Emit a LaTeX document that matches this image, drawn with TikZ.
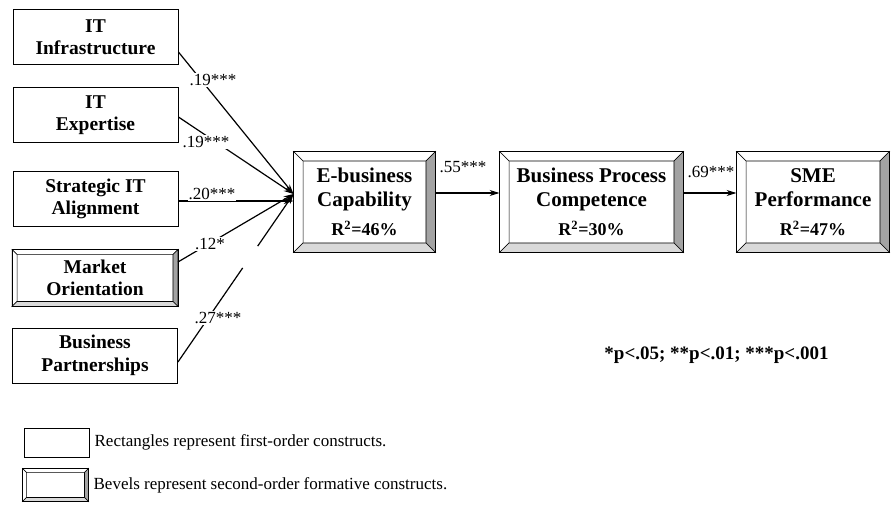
\documentclass[tikz,border=0pt]{standalone}
\usepackage{fontspec}
\setmainfont{Liberation Serif}
\usetikzlibrary{arrows.meta,calc}

\definecolor{facetdark}{gray}{0.64}
\definecolor{facetlight}{gray}{0.85}

\tikzset{
  box/.style={draw, line width=0.9pt, fill=white, align=center, inner sep=0pt},
  leftbox/.style={box, minimum width=165pt, minimum height=55pt,
                  font=\fontsize{19.5}{22.5}\selectfont\bfseries},
  midbox/.style={box, minimum height=100pt,
                 font=\fontsize{21}{24}\selectfont\bfseries},
  coef/.style={fill=white, inner sep=1pt, font=\fontsize{17}{20}\selectfont},
  link/.style={line width=1.2pt},
  conn/.style={link, -{Stealth[length=10pt,width=6pt]}},
  note/.style={anchor=west, inner sep=0pt, font=\fontsize{17}{20}\selectfont},
  facet/.style={draw, line width=0.6pt},
}

% bevelled frame drawn over an existing node: #1 node name, #2 facet width in pt
\newcommand{\bevelframe}[2]{%
  \coordinate (#1-oa) at (#1.north west);
  \coordinate (#1-ob) at (#1.north east);
  \coordinate (#1-oc) at (#1.south east);
  \coordinate (#1-od) at (#1.south west);
  \coordinate (#1-ia) at ($(#1.north west)+(#2pt,-#2pt)$);
  \coordinate (#1-ib) at ($(#1.north east)+(-#2pt,-#2pt)$);
  \coordinate (#1-ic) at ($(#1.south east)+(-#2pt,#2pt)$);
  \coordinate (#1-id) at ($(#1.south west)+(#2pt,#2pt)$);
  \path[facet, fill=white] (#1-oa) -- (#1-ob) -- (#1-ib) -- (#1-ia) -- cycle;
  \path[facet, fill=white] (#1-oa) -- (#1-ia) -- (#1-id) -- (#1-od) -- cycle;
  \path[facet, fill=facetdark] (#1-ob) -- (#1-oc) -- (#1-ic) -- (#1-ib) -- cycle;
  \path[facet, fill=facetlight] (#1-od) -- (#1-id) -- (#1-ic) -- (#1-oc) -- cycle;
  \draw[line width=0.9pt] (#1-oa) rectangle (#1-oc);
}

\begin{document}
\begin{tikzpicture}[x=1pt, y=-1pt]
\useasboundingbox (0,0) rectangle (891,505);

% antecedent constructs
\node[leftbox] (itinf) at (95.5,37) {IT\\Infrastructure};
\node[leftbox] (itexp) at (95.5,115) {IT\\Expertise};
\node[leftbox] (strat) at (95.5,199) {Strategic IT\\Alignment};
\node[leftbox, minimum height=56pt] (mkt) at (95,278) {Market\\Orientation};
\bevelframe{mkt}{5}
\node[leftbox] (bp) at (95,355.5) {Business\\Partnerships};

% second-order constructs
\node[midbox, minimum width=141pt] (eb) at (364.5,202)
  {E-business\\Capability\\[5pt]{\fontsize{18}{20}\selectfont R\textsuperscript{2}=46\%}};
\bevelframe{eb}{9.5}
\node[midbox, minimum width=183pt] (bpc) at (591.5,202)
  {Business Process\\Competence\\[5pt]{\fontsize{18}{20}\selectfont R\textsuperscript{2}=30\%}};
\bevelframe{bpc}{9.5}
\node[midbox, minimum width=152pt] (sme) at (813,202)
  {SME\\Performance\\[5pt]{\fontsize{18}{20}\selectfont R\textsuperscript{2}=47\%}};
\bevelframe{sme}{9.5}

% paths into E-business capability
\coordinate (conv) at ([yshift=8pt]eb.west);
\draw[conn] ([yshift=-15pt]itinf.east) -- (conv);
\draw[conn] ([yshift=-2pt]itexp.east) -- (conv);
\draw[conn] ([yshift=-2pt]strat.east) -- ([yshift=1pt]eb.west);
\draw[conn] ([yshift=16pt]mkt.east) -- (conv);
\coordinate (bpstart) at ([yshift=-6.5pt]bp.east);
\coordinate (bpgapa) at ($(bpstart)!0.56!(conv)$);
\coordinate (bpgapb) at ($(bpstart)!0.69!(conv)$);
\draw[link] (bpstart) -- (bpgapa);
\draw[conn] (bpgapb) -- (conv);

\node[coef] (c1) at (213,80) {.19***};
\node[coef] (c2) at (206,142) {.19***};
\node[coef] (c3) at (212,194) {.20***};
\node[coef] (c4) at (210,244) {.12*};
\node[coef] (c5) at (218,318) {.27***};

% downstream paths
\draw[conn] ([yshift=9pt]eb.east) -- ([yshift=9pt]bpc.west);
\draw[conn] ([yshift=9pt]bpc.east) -- ([yshift=9pt]sme.west);
\node[coef, fill=none] (c6) at (463,167) {.55***};
\node[coef, fill=none] (c7) at (711,172) {.69***};

% significance levels
\node[font=\fontsize{19}{22}\selectfont\bfseries] (pval) at (716.5,355)
  {*p<.05; **p<.01; ***p<.001};

% legend
\node[draw, line width=0.9pt, minimum width=65pt, minimum height=29pt,
      inner sep=0pt] (legrect) at (56.5,442.5) {};
\node[note] (legrecttext) at ([xshift=5pt]legrect.east)
  {Rectangles represent first-order constructs.};
\node[draw, line width=0.9pt, minimum width=65pt, minimum height=32pt,
      inner sep=0pt] (legbev) at (55.5,485) {};
\bevelframe{legbev}{4}
\node[note] (legbevtext) at ([xshift=5pt]legbev.east)
  {Bevels represent second-order formative constructs.};
\end{tikzpicture}
\end{document}
